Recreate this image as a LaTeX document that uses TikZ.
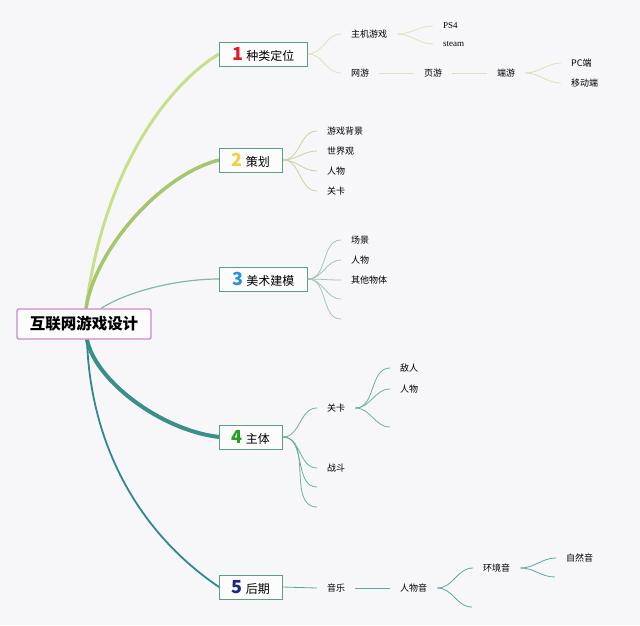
\documentclass[tikz,border=0pt]{standalone}
\usepackage{fontspec}
\setmainfont{Noto Sans CJK SC}
\newfontfamily\serifen{Liberation Serif}
\definecolor{bgc}{HTML}{F7F7F9}
\definecolor{brA}{HTML}{C8E08A}
\definecolor{brB}{HTML}{A6C66C}
\definecolor{brC}{HTML}{88B4A4}
\definecolor{brD}{HTML}{3A9088}
\definecolor{brE}{HTML}{2E8A88}
\definecolor{subA}{HTML}{DDE2BC}
\definecolor{subB}{HTML}{C6D4A6}
\definecolor{subC}{HTML}{A3C4B8}
\definecolor{subD}{HTML}{6CB0A0}
\definecolor{subE}{HTML}{5AA8A0}
\definecolor{boxline}{HTML}{5E9C86}
\definecolor{rootline}{HTML}{CC88D2}
\definecolor{numA}{HTML}{D8202A}
\definecolor{numB}{HTML}{F0D040}
\definecolor{numC}{HTML}{2A90D8}
\definecolor{numD}{HTML}{22A022}
\definecolor{numE}{HTML}{1A2A80}
\pgfdeclarelayer{bglayer}
\pgfdeclarelayer{linelayer}
\pgfsetlayers{bglayer,linelayer,main}
\tikzset{
  mainbox/.style={draw=boxline, line width=0.9pt, fill=white!60!bgc, minimum height=24pt,
    inner sep=0pt, anchor=west, font=\fontsize{12}{14}\selectfont},
  rootbox/.style={draw=rootline, line width=1.1pt, fill=white!60!bgc, rounded corners=1.5pt,
    minimum width=134pt, minimum height=30pt, inner sep=0pt, font=\fontsize{15.5}{17}\selectfont\bfseries},
  leaf/.style={anchor=west, inner xsep=10pt, inner ysep=0pt, font=\fontsize{9}{10}\selectfont},
  enleaf/.style={leaf, font=\serifen\fontsize{9}{10}\selectfont},
}
\newcommand{\mnum}[2]{\textcolor{#1}{\fontsize{18}{18}\selectfont\bfseries #2}\kern3pt}
\begin{document}
\begin{tikzpicture}[x=1pt,y=-1pt]
\begin{pgfonlayer}{bglayer}
\fill[bgc] (0,0) rectangle (640,625);
\end{pgfonlayer}
\useasboundingbox (0,0) rectangle (640,625);

% root and main nodes
\node[rootbox] (root) at (84,324) {互联网游戏设计};
\node[mainbox, minimum width=88pt] (m1) at (219,54) {\mnum{numA}{1}种类定位};
\node[mainbox, minimum width=63pt] (m2) at (219,160) {\mnum{numB}{2}策划};
\node[mainbox, minimum width=88pt] (m3) at (219,279) {\mnum{numC}{3}美术建模};
\node[mainbox, minimum width=63pt] (m4) at (219,437) {\mnum{numD}{4}主体};
\node[mainbox, minimum width=63pt] (m5) at (219,587) {\mnum{numE}{5}后期};

% main branches
\begin{pgfonlayer}{linelayer}
\draw[brA, line width=3pt] ([xshift=2pt]root.north) .. controls (105,160) and (175,80) .. (m1.west);
\draw[brB, line width=3.5pt] ([xshift=2pt]root.north) .. controls (95,250) and (160,175) .. (m2.west);
\draw[brC, line width=1.2pt] ([xshift=17pt]root.north) .. controls (130,290) and (180,279) .. (m3.west);
\draw[brD, line width=4pt] ([xshift=3pt]root.south) .. controls (95,380) and (160,430) .. (m4.west);
\draw[brE, line width=1.8pt] ([xshift=3pt]root.south) .. controls (90,440) and (135,530) .. (m5.west);
\end{pgfonlayer}

% branch 1
\node[leaf] (a1) at (341,34) {主机游戏};
\node[leaf] (a2) at (341,73) {网游};
\node[enleaf] (a11) at (433,26) {PS4};
\node[enleaf] (a12) at (433,44) {steam};
\node[leaf] (a3) at (414,73) {页游};
\node[leaf] (a4) at (487,73) {端游};
\node[leaf] (a41) at (561,63) {PC端};
\node[leaf] (a42) at (561,83) {移动端};
\begin{scope}[subA, line width=0.8pt]
\draw (m1.east) to[out=0,in=180] (a1.west);
\draw (m1.east) to[out=0,in=180] (a2.west);
\draw (a1.east) to[out=0,in=180] (a11.west);
\draw (a1.east) to[out=0,in=180] (a12.west);
\draw (a2.east) -- (a3.west);
\draw (a3.east) -- (a4.west);
\draw (a4.east) to[out=0,in=180] (a41.west);
\draw (a4.east) to[out=0,in=180] (a42.west);
\end{scope}

% branch 2
\node[leaf] (b1) at (317,131) {游戏背景};
\node[leaf] (b2) at (317,151) {世界观};
\node[leaf] (b3) at (317,171) {人物};
\node[leaf] (b4) at (317,191) {关卡};
\begin{scope}[subB, line width=0.8pt]
\foreach \t in {b1,b2,b3,b4} \draw (m2.east) to[out=0,in=180] (\t.west);
\end{scope}

% branch 3
\node[leaf] (c1) at (341,240) {场景};
\node[leaf] (c2) at (341,260) {人物};
\node[leaf] (c3) at (341,280) {其他物体};
\coordinate (c4) at (341,299);
\coordinate (c5) at (341,319);
\begin{scope}[subC, line width=0.8pt]
\foreach \t in {c1.west,c2.west,c3.west,c4,c5} \draw (m3.east) to[out=0,in=180] (\t);
\end{scope}

% branch 4
\node[leaf] (d1) at (317,408) {关卡};
\node[leaf] (d2) at (317,468) {战斗};
\coordinate (d3) at (317,487);
\coordinate (d4) at (317,507);
\node[leaf] (d11) at (390,368) {敌人};
\node[leaf] (d12) at (390,389) {人物};
\coordinate (d13) at (390,427);
\begin{scope}[subD, line width=0.8pt]
\foreach \t in {d1.west,d2.west,d3,d4} \draw (m4.east) to[out=0,in=180] (\t);
\foreach \t in {d11.west,d12.west,d13} \draw (d1.east) to[out=0,in=180] (\t);
\end{scope}

% branch 5
\node[leaf] (e1) at (317,588) {音乐};
\node[leaf] (e2) at (390,588) {人物音};
\node[leaf] (e3) at (473,568) {环境音};
\coordinate (e4) at (472,607);
\node[leaf] (e31) at (556,558) {自然音};
\coordinate (e32) at (555,577);
\begin{scope}[subE, line width=0.8pt]
\draw (m5.east) -- (e1.west);
\draw (e1.east) -- (e2.west);
\draw (e2.east) to[out=0,in=180] (e3.west);
\draw (e2.east) to[out=0,in=180] (e4);
\draw (e3.east) to[out=0,in=180] (e31.west);
\draw (e3.east) to[out=0,in=180] (e32);
\end{scope}
\end{tikzpicture}
\end{document}
